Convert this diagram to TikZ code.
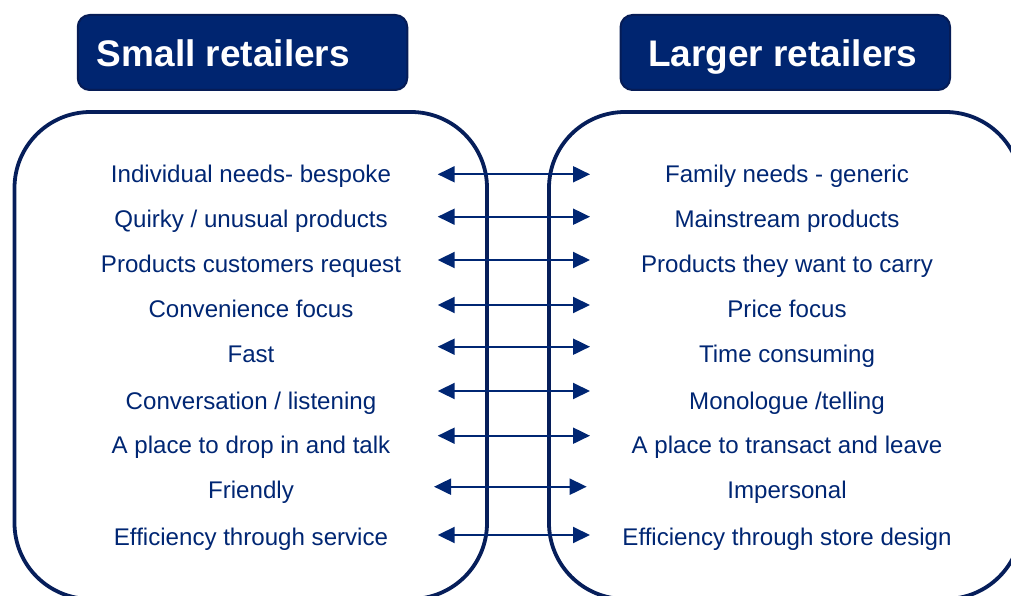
\documentclass[tikz,border=0pt]{standalone}
\usepackage{fontspec}
\setmainfont{Liberation Sans}
\usetikzlibrary{arrows.meta}

\definecolor{navyfill}{RGB}{0,37,112}
\definecolor{navyedge}{RGB}{6,28,86}
\definecolor{navytext}{RGB}{0,38,115}
\definecolor{panelline}{RGB}{6,30,90}

\tikzset{
  titlebox/.style={draw=navyedge, line width=2pt, fill=navyfill, rounded corners=12pt,
    minimum width=329.5pt, minimum height=75pt, inner sep=0pt},
  titletext/.style={anchor=base west, text=white, inner sep=0pt,
    font=\bfseries\fontsize{37}{40}\selectfont},
  panel/.style={draw=panelline, line width=3.8pt, rounded corners=76pt,
    minimum width=472.5pt, minimum height=487pt, inner sep=0pt},
  item/.style={anchor=base, text=navytext, inner sep=0pt,
    font=\fontsize{24.1}{28}\selectfont},
  link/.style={draw=navytext, line width=2pt,
    {Triangle[length=17pt,width=16pt]}-{Triangle[length=17pt,width=16pt]}}
}

\begin{document}
\begin{tikzpicture}[x=1pt, y=-1pt]
  \useasboundingbox (0,0) rectangle (1011,596);
  \clip (0,0) rectangle (1011,596);

  % headers
  \node[titlebox] (hsmall) at (242.5,52.5) {};
  \node[titletext] (tsmall) at (96.7,66.7) {Small retailers};
  \node[titlebox] (hlarge) at (785.3,52.5) {};
  \node[titletext] (tlarge) at (648,66.7) {Larger retailers};

  % panels
  \node[panel] (psmall) at (250.75,355.5) {};
  \node[panel] (plarge) at (785.25,355.5) {};

  % left column
  \node[item] (s1) at (251,182.3) {Individual needs- bespoke};
  \node[item] (s2) at (251,227)   {Quirky / unusual products};
  \node[item] (s3) at (251,272)   {Products customers request};
  \node[item] (s4) at (251,317)   {Convenience focus};
  \node[item] (s5) at (251,362)   {Fast};
  \node[item] (s6) at (251,409)   {Conversation / listening};
  \node[item] (s7) at (251,453)   {A place to drop in and talk};
  \node[item] (s8) at (251,498)   {Friendly};
  \node[item] (s9) at (251,545)   {Efficiency through service};

  % right column
  \node[item] (r1) at (787,182.3) {Family needs - generic};
  \node[item] (r2) at (787,227)   {Mainstream products};
  \node[item] (r3) at (787,272)   {Products they want to carry};
  \node[item] (r4) at (787,317)   {Price focus};
  \node[item] (r5) at (787,362)   {Time consuming};
  \node[item] (r6) at (787,409)   {Monologue /telling};
  \node[item] (r7) at (787,453)   {A place to transact and leave};
  \node[item] (r8) at (787,498)   {Impersonal};
  \node[item] (r9) at (787,545)   {Efficiency through store design};

  % arrow end points
  \foreach \i/\y in {1/174.3, 2/216.7, 3/260, 4/305, 5/346.7, 6/391, 7/435.7, 9/535} {
    \coordinate (a\i) at (437.7,\y);
    \coordinate (b\i) at (590,\y);
  }
  \coordinate (a8) at (434,486.7);
  \coordinate (b8) at (586.7,486.7);

  % two-way links
  \foreach \i in {1,...,9} {
    \draw[link] (a\i) -- (b\i);
  }
\end{tikzpicture}
\end{document}
